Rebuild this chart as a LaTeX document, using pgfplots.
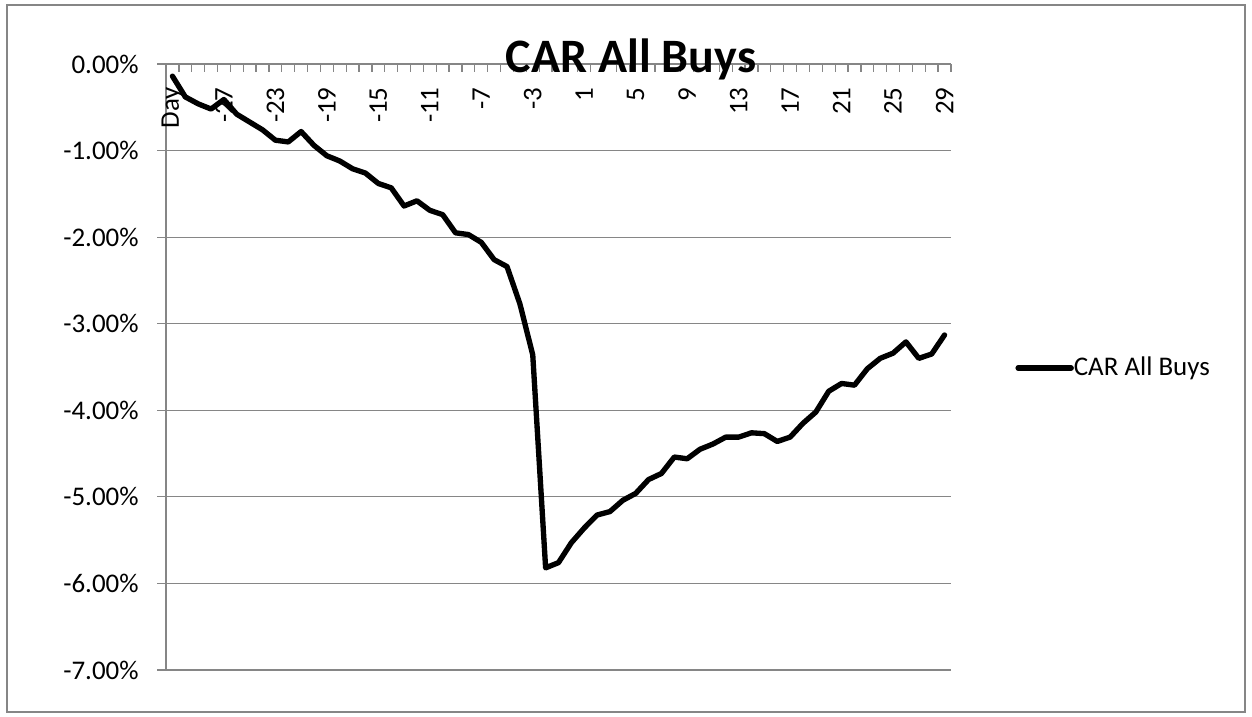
\documentclass[border=0pt]{standalone}
\usepackage{pgfplots}
\pgfplotsset{compat=1.18}
\usepackage{fontspec}
\setmainfont{Carlito}
\definecolor{gridgray}{RGB}{134,134,134}
\definecolor{bordergray}{RGB}{134,134,134}
\begin{document}
\begin{tikzpicture}[x=0.3937pt,y=0.3937pt]
\path[use as bounding box] (-166,-47) rectangle (1086,670);
\draw[bordergray,line width=0.8pt] (-159,-42) rectangle (1079,665);
\begin{axis}[
  at={(0,0)}, anchor=south west,
  scale only axis, width=309.05pt, height=238.58pt,
  xmin=-0.5, xmax=60.5, ymin=-7, ymax=0,
  axis x line*=top, axis y line*=left,
  axis line style={gridgray, line width=0.5pt},
  tick align=inside,
  major tick length=3.5pt, minor tick length=3pt,
  xtick={0,4,...,60},
  xticklabels={Day,-27,-23,-19,-15,-11,-7,-3,1,5,9,13,17,21,25,29},
  minor xtick={-0.5,0.5,...,60.5},
  every major x tick/.append style={draw=none},
  every minor x tick/.append style={gridgray, line width=0.5pt},
  every major y tick/.append style={gridgray, line width=0.5pt, xshift=-3.5pt},
  xticklabel style={font=\fontsize{10.6}{12}\selectfont, rotate=90, anchor=east, inner sep=0pt, xshift=-9pt},
  ytick={0,-1,-2,-3,-4,-5,-6,-7},
  yticklabels={0.00\%,-1.00\%,-2.00\%,-3.00\%,-4.00\%,-5.00\%,-6.00\%,-7.00\%},
  yticklabel style={font=\fontsize{10.6}{12}\selectfont, anchor=east, inner sep=0pt, xshift=-10.6pt},
  ymajorgrids, xmajorgrids=false,
  major grid style={gridgray, line width=0.5pt},
  /pgf/number format/assume math mode=true,
  legend style={at={(1.0815,0.4983)}, anchor=west, draw=none, fill=none, inner sep=0pt,
    nodes={inner sep=0pt, font=\fontsize{10.6}{12}\selectfont},
    /tikz/every even column/.append style={column sep=1.6pt}},
  legend image code/.code={\draw[#1] (0pt,0pt) -- (20.9pt,0pt);},
  clip=false,
]
\addplot[black, line width=2.1pt, line join=round, line cap=round] coordinates {
(0,-0.14) (1,-0.38) (2,-0.46) (3,-0.52) (4,-0.41) (5,-0.58) (6,-0.67) (7,-0.76)
(8,-0.88) (9,-0.90) (10,-0.78) (11,-0.94) (12,-1.06) (13,-1.12) (14,-1.21) (15,-1.26)
(16,-1.38) (17,-1.43) (18,-1.64) (19,-1.58) (20,-1.69) (21,-1.74) (22,-1.95) (23,-1.97)
(24,-2.06) (25,-2.26) (26,-2.34) (27,-2.77) (28,-3.36) (29,-5.82) (30,-5.76) (31,-5.53)
(32,-5.36) (33,-5.21) (34,-5.17) (35,-5.04) (36,-4.96) (37,-4.80) (38,-4.73) (39,-4.54)
(40,-4.56) (41,-4.45) (42,-4.39) (43,-4.31) (44,-4.31) (45,-4.26) (46,-4.27) (47,-4.36)
(48,-4.31) (49,-4.15) (50,-4.02) (51,-3.78) (52,-3.69) (53,-3.71) (54,-3.52) (55,-3.40)
(56,-3.34) (57,-3.21) (58,-3.40) (59,-3.35) (60,-3.13)
};
\addlegendentry{CAR All Buys}
\end{axis}
\node[anchor=base, font=\fontsize{18.9}{22}\selectfont\bfseries, inner sep=0pt] at (465,597) {CAR All Buys};
\end{tikzpicture}
\end{document}
